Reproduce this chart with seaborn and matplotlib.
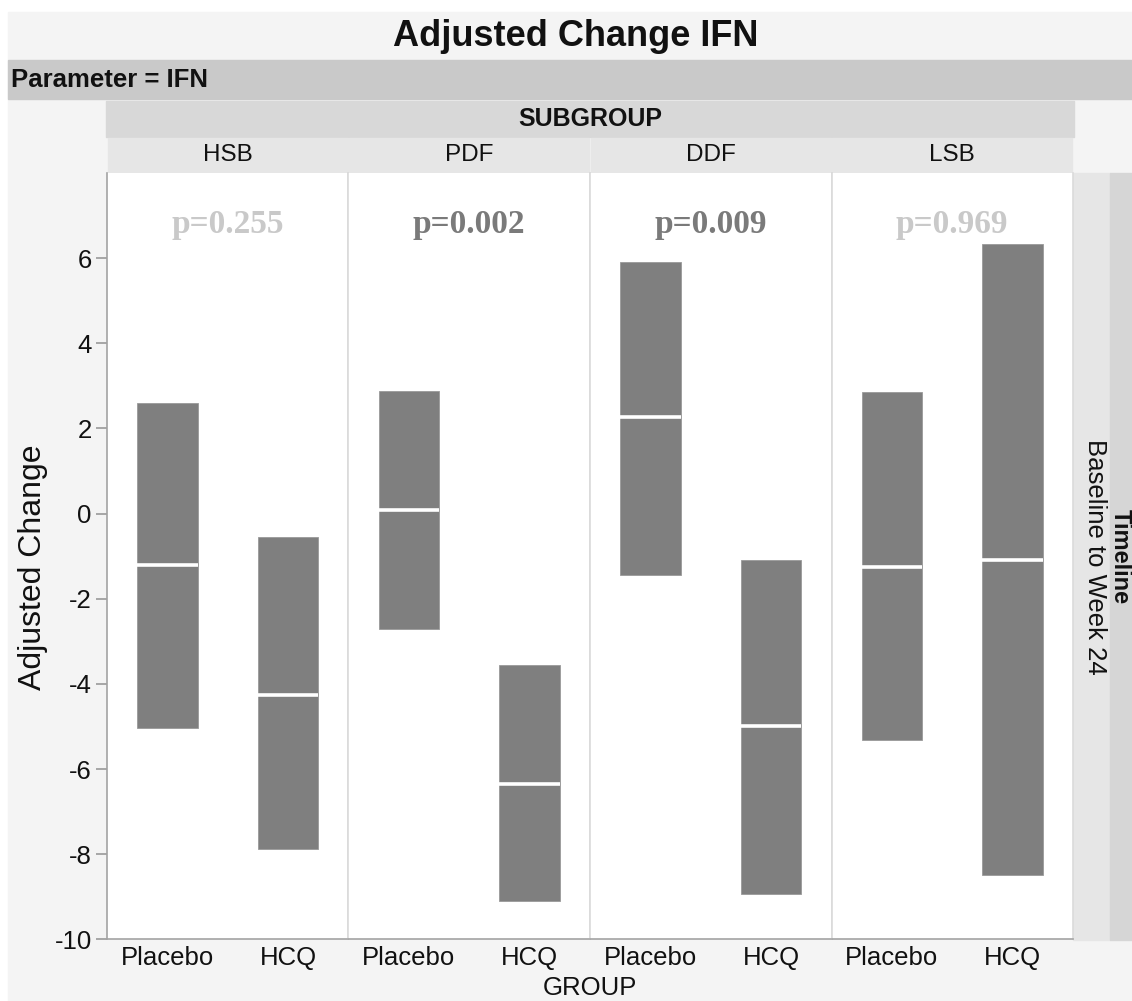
import numpy as np
import pandas as pd
import matplotlib.pyplot as plt
from matplotlib.patches import Rectangle
import seaborn as sns

# ---- data ----
subgroups = ['HSB', 'PDF', 'DDF', 'LSB']
groups = ['Placebo', 'HCQ']
p_labels = ['p=0.255', 'p=0.002', 'p=0.009', 'p=0.969']
p_significant = [False, True, True, False]

# per subgroup: [Placebo, HCQ]
low = [[-5.04, -7.89], [-2.72, -9.11], [-1.45, -8.93], [-5.32, -8.49]]
high = [[2.59, -0.55], [2.87, -3.55], [5.90, -1.08], [2.86, 6.33]]
median = [[-1.20, -4.25], [0.08, -6.35], [2.26, -5.00], [-1.25, -1.08]]
yticks = [-10, -8, -6, -4, -2, 0, 2, 4, 6]

rows = []
for i, sg in enumerate(subgroups):
    for j, g in enumerate(groups):
        rows.append(dict(subgroup=sg, group=g, low=low[i][j],
                         high=high[i][j], median=median[i][j]))
df = pd.DataFrame(rows)
df['span'] = df['high'] - df['low']

# ---- style ----
sns.set_style('white')
plt.rcParams['font.family'] = ['Liberation Sans', 'DejaVu Sans']
plt.rcParams['text.color'] = '#111111'
plt.rcParams['axes.unicode_minus'] = False  # plain hyphen like the original

W, H = 1132, 1001
fig = plt.figure(figsize=(W / 100, H / 100), dpi=100, facecolor='white')


def fx(x):
    return x / W


def fy(y):
    return 1 - y / H


def band(x0, y0, x1, y1, color):  # rectangle in pixel coords (top-left origin)
    fig.patches.append(Rectangle((fx(x0), fy(y1)), fx(x1) - fx(x0), fy(y0) - fy(y1),
                                 transform=fig.transFigure, color=color, zorder=-5))


# background + header bands
band(8, 12, W, H, '#f4f4f4')
band(8, 60, W, 99, '#c9c9c9')
band(106, 101, 1074, 137, '#d8d8d8')
band(1073, 173, 1110, 940, '#e6e6e6')
band(1110, 173, W, 940, '#d6d6d6')

axes = fig.subplots(1, 4, sharey=True, gridspec_kw=dict(wspace=0))
fig.subplots_adjust(left=fx(107), right=fx(1073), bottom=fy(939.3), top=fy(173))

for i, (ax, sg) in enumerate(zip(axes, subgroups)):
    sub = df[df['subgroup'] == sg].set_index('group').loc[groups].reset_index()
    ax.set_facecolor('white')
    ax.set_zorder(1)
    sns.barplot(data=sub, x='group', y='span', order=groups, bottom=sub['low'].values,
                color='#7f7f7f', saturation=1, width=0.5, errorbar=None,
                linewidth=0.6, edgecolor='#9a9a9a', ax=ax)
    xs = np.arange(len(groups))
    ax.hlines(sub['median'], xs - 0.25, xs + 0.25, color='white', lw=2.6, zorder=5)

    ax.text(0.5, 6.8, p_labels[i], ha='center', va='center', fontsize=24,
            fontweight='bold', family=['Liberation Serif', 'DejaVu Serif'],
            color='#7a7a7a' if p_significant[i] else '#c9c9c9')

    ax.set_xlim(-0.5, 1.5)
    ax.set_ylim(-10, 8.0)
    ax.set_xlabel('')
    ax.set_ylabel('')
    ax.tick_params(axis='x', length=0, labelsize=18.5, pad=5, labelcolor='#111111')
    for s in ax.spines.values():
        s.set_linewidth(1.2)
    ax.spines['top'].set_visible(False)
    ax.spines['bottom'].set_color('#a3a3a3')
    ax.spines['left'].set_color('#a3a3a3' if i == 0 else '#dadada')
    ax.spines['right'].set_color('#dadada')

    # facet label strip
    pos = ax.get_position()
    fig.patches.append(Rectangle((pos.x0 + 0.0008, fy(172)), pos.width - 0.0016, fy(138) - fy(172),
                                 transform=fig.transFigure, color='#e6e6e6', zorder=-4))
    fig.text((pos.x0 + pos.x1) / 2, fy(155), sg, ha='center', va='center', fontsize=17.5)

axes[0].set_yticks(yticks)
axes[0].tick_params(axis='y', left=True, length=8, width=1.2, color='#999999',
                    labelsize=18.5, pad=3, labelcolor='#111111')
for ax in axes[1:]:
    ax.tick_params(axis='y', left=False)

# texts
fig.text(fx(576), fy(36), 'Adjusted Change IFN', ha='center', va='center',
         fontsize=26, fontweight='bold')
fig.text(fx(11), fy(80), 'Parameter = IFN', ha='left', va='center',
         fontsize=18.5, fontweight='bold')
fig.text(fx(590), fy(119), 'SUBGROUP', ha='center', va='center',
         fontsize=18, fontweight='bold')
fig.text(fx(590), fy(988), 'GROUP', ha='center', va='center', fontsize=18.5)
fig.text(fx(33), fy(567), 'Adjusted Change', ha='center', va='center',
         rotation=90, fontsize=23)
fig.text(fx(1095), fy(557), 'Baseline to Week 24', ha='center', va='center',
         rotation=270, fontsize=18.5)
fig.text(fx(1120), fy(557), 'Timeline', ha='center', va='center',
         rotation=270, fontsize=17, fontweight='bold')

fig.savefig('out.png', dpi=100, facecolor=fig.get_facecolor())
